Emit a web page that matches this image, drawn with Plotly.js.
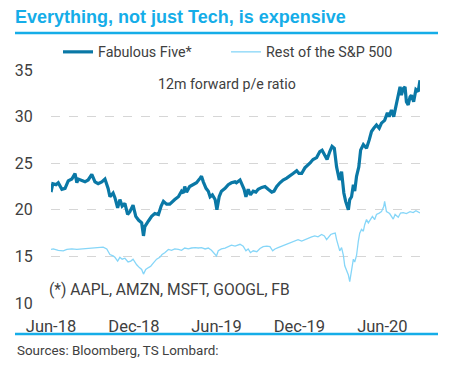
<!DOCTYPE html>
<html>
<head>
<meta charset="utf-8">
<script src="https://cdn.plot.ly/plotly-3.0.1.min.js"></script>
<style>html,body{margin:0;padding:0;background:#fff;}#chart{width:449px;height:367px;}</style>
</head>
<body>
<div id="chart"></div>
<script>
// Fabulous Five* (AAPL, AMZN, MSFT, GOOGL, FB) – 12m forward p/e
var fabDates = ["2018-06-01","2018-06-03","2018-06-05","2018-06-12","2018-06-17","2018-06-25","2018-07-02","2018-07-09","2018-07-17","2018-07-24","2018-07-28","2018-07-31","2018-08-08","2018-08-15","2018-08-22","2018-08-30","2018-09-06","2018-09-13","2018-09-21","2018-09-28","2018-10-05","2018-10-09","2018-10-16","2018-10-20","2018-10-26","2018-10-31","2018-11-05","2018-11-11","2018-11-17","2018-11-22","2018-11-29","2018-12-05","2018-12-11","2018-12-18","2018-12-22","2018-12-25","2019-01-02","2019-01-09","2019-01-16","2019-01-24","2019-01-30","2019-02-04","2019-02-11","2019-02-18","2019-03-01","2019-03-09","2019-03-16","2019-03-20","2019-03-23","2019-03-27","2019-04-03","2019-04-11","2019-04-18","2019-04-26","2019-04-29","2019-05-03","2019-05-09","2019-05-14","2019-05-18","2019-05-23","2019-05-29","2019-06-02","2019-06-07","2019-06-12","2019-06-20","2019-06-27","2019-07-04","2019-07-12","2019-07-15","2019-07-23","2019-07-26","2019-08-01","2019-08-05","2019-08-10","2019-08-15","2019-08-21","2019-08-27","2019-09-01","2019-09-09","2019-09-16","2019-09-23","2019-10-01","2019-10-06","2019-10-12","2019-10-19","2019-10-26","2019-11-03","2019-11-10","2019-11-17","2019-11-25","2019-11-30","2019-12-06","2019-12-13","2019-12-24","2019-12-31","2020-01-08","2020-01-15","2020-01-20","2020-01-26","2020-01-31","2020-02-06","2020-02-11","2020-02-16","2020-02-21","2020-02-27","2020-03-03","2020-03-08","2020-03-12","2020-03-18","2020-03-21","2020-03-25","2020-03-29","2020-04-01","2020-04-05","2020-04-10","2020-04-14","2020-04-20","2020-04-27","2020-05-03","2020-05-08","2020-05-13","2020-05-19","2020-05-25","2020-05-30","2020-06-06","2020-06-12","2020-06-16","2020-06-21","2020-06-26","2020-07-01","2020-07-06","2020-07-10","2020-07-13","2020-07-17","2020-07-21","2020-07-24","2020-07-28","2020-08-01","2020-08-04","2020-08-09","2020-08-14","2020-08-19","2020-08-23"];
var fabPE = [21.9,22.7,22.8,22.7,22.9,22.2,22.3,23.1,23.3,23.9,22.9,23.3,23.1,23.0,23.2,23.8,23.0,22.8,23.0,23.3,22.3,21.4,21.8,21.3,20.2,21.1,20.4,20.7,19.5,19.8,20.5,19.3,18.9,18.6,17.2,18.2,18.8,19.3,19.6,19.5,20.4,20.9,20.6,20.6,21.1,21.4,22.0,21.8,22.5,21.9,22.5,22.7,22.9,23.4,23.6,23.0,22.3,22.0,21.4,21.6,21.1,20.0,21.4,22.0,22.3,22.7,22.9,23.0,22.9,23.2,22.9,22.2,21.4,22.2,21.6,22.0,21.9,22.2,22.4,22.5,22.2,21.9,22.0,22.5,22.9,23.2,23.4,23.7,23.9,24.2,23.9,23.9,24.5,25.0,25.4,25.6,26.25,26.4,25.9,25.4,26.25,26.8,26.6,24.6,23.2,24.1,21.8,20.9,20.0,21.1,21.4,22.7,22.0,23.6,24.6,26.4,27.0,26.6,27.5,28.4,28.75,29.1,28.75,29.3,29.6,30.4,30.0,30.7,30.0,31.1,32.5,33.2,32.3,33.0,33.2,31.6,31.25,32.1,32.3,31.6,32.9,32.7,33.9];

// Rest of the S&P 500 – 12m forward p/e
var restDates = ["2018-06-01","2018-06-06","2018-06-17","2018-06-28","2018-07-06","2018-07-17","2018-07-28","2018-08-08","2018-08-22","2018-09-06","2018-09-17","2018-09-24","2018-10-02","2018-10-09","2018-10-16","2018-10-20","2018-10-26","2018-10-31","2018-11-05","2018-11-11","2018-11-18","2018-11-24","2018-11-29","2018-12-07","2018-12-13","2018-12-18","2018-12-22","2018-12-27","2019-01-02","2019-01-07","2019-01-13","2019-01-20","2019-01-27","2019-02-01","2019-02-07","2019-02-15","2019-02-22","2019-03-01","2019-03-09","2019-03-16","2019-03-23","2019-03-31","2019-04-07","2019-04-15","2019-04-22","2019-04-29","2019-05-07","2019-05-14","2019-05-21","2019-05-29","2019-06-01","2019-06-05","2019-06-12","2019-06-20","2019-06-27","2019-07-04","2019-07-12","2019-07-23","2019-07-30","2019-08-05","2019-08-10","2019-08-15","2019-08-21","2019-08-29","2019-09-05","2019-09-12","2019-09-20","2019-09-27","2019-10-03","2019-10-08","2019-10-15","2019-10-23","2019-10-30","2019-11-06","2019-11-14","2019-11-21","2019-11-28","2019-12-06","2019-12-13","2019-12-20","2019-12-28","2020-01-04","2020-01-11","2020-01-19","2020-01-25","2020-01-30","2020-02-02","2020-02-08","2020-02-13","2020-02-18","2020-02-21","2020-02-25","2020-02-28","2020-03-03","2020-03-07","2020-03-10","2020-03-14","2020-03-18","2020-03-21","2020-03-25","2020-03-29","2020-04-01","2020-04-05","2020-04-09","2020-04-12","2020-04-16","2020-04-20","2020-04-23","2020-04-27","2020-05-01","2020-05-04","2020-05-10","2020-05-15","2020-05-19","2020-05-25","2020-05-30","2020-06-04","2020-06-06","2020-06-10","2020-06-14","2020-06-17","2020-06-25","2020-06-29","2020-07-06","2020-07-11","2020-07-17","2020-07-24","2020-08-01","2020-08-08","2020-08-14","2020-08-19","2020-08-23"];
var restPE = [15.75,15.8,15.65,15.6,15.75,15.8,15.75,15.8,15.9,15.9,15.95,16.0,15.8,15.2,15.05,14.9,14.5,14.9,14.7,14.8,14.4,14.5,14.7,14.1,13.8,13.6,13.1,13.6,13.8,13.95,14.3,14.7,14.9,15.2,15.4,15.75,15.65,15.8,15.75,15.65,15.9,15.8,15.9,15.95,15.9,15.95,15.8,15.9,15.65,15.2,15.05,15.6,15.8,15.9,16.05,16.2,16.1,16.3,16.1,15.6,15.8,15.4,15.6,15.5,15.85,16.05,16.1,16.05,15.6,15.8,15.95,16.1,16.3,16.4,16.55,16.65,16.8,16.65,16.8,17.0,17.1,17.2,17.1,17.35,17.2,16.8,17.0,17.35,17.45,17.5,16.8,15.95,15.6,15.95,15.1,14.0,13.5,13.0,12.3,13.7,14.7,14.4,15.1,16.65,17.5,17.9,17.7,18.4,18.95,18.6,18.8,19.3,18.95,19.5,19.65,19.8,20.35,20.9,19.8,19.65,19.6,19.0,19.5,19.2,19.65,19.7,19.6,19.8,19.7,19.9,19.8,19.65];

var xTickVals = ["2018-06-01","2018-12-01","2019-06-01","2019-12-01","2020-06-01"];
var xTickText = ["Jun-18","Dec-18","Jun-19","Dec-19","Jun-20"];
var yTickVals = [10,15,20,25,30,35];

var FONT = "Roboto, 'Liberation Sans', Arial, sans-serif";
var TITLEFONT = "'Liberation Sans', Arial, sans-serif";
var TXT = "#404040";
var ACCENT = "#15ade8";

var traces = [
  {x: fabDates, y: fabPE, type: "scatter", mode: "lines", name: "Fabulous Five*",
   line: {color: "#0a78a6", width: 3.2}},
  {x: restDates, y: restPE, type: "scatter", mode: "lines", name: "Rest of the S&P 500",
   line: {color: "#86d6f8", width: 1.3}}
];

var layout = {
  width: 449, height: 367,
  margin: {l: 51, r: 29, t: 70, b: 64},
  paper_bgcolor: "#fff", plot_bgcolor: "#fff",
  font: {family: FONT, size: 14, color: TXT},
  title: {text: "<b>Everything, not just Tech, is expensive</b>",
          font: {family: TITLEFONT, size: 18, color: ACCENT},
          x: 15/449, xref: "container", xanchor: "left",
          y: 1 - 17/367, yref: "container", yanchor: "middle"},
  showlegend: true,
  legend: {orientation: "h", x: 0.019, xanchor: "left", y: 1.077, yanchor: "middle",
           font: {family: FONT, size: 14.3, color: TXT},
           bgcolor: "rgba(0,0,0,0)", entrywidth: 123, entrywidthmode: "pixels",
           itemwidth: 30, tracegroupgap: 0},
  xaxis: {type: "date", range: ["2018-06-01", "2020-08-23"],
          tickmode: "array", tickvals: xTickVals, ticktext: xTickText,
          showgrid: false, zeroline: false, showline: false,
          ticks: "outside", ticklen: 8, tickcolor: "rgba(0,0,0,0)",
          tickfont: {family: FONT, size: 16.5, color: TXT}},
  yaxis: {range: [10, 35], tickmode: "array", tickvals: yTickVals,
          showgrid: true, gridcolor: "#d6d6d6", gridwidth: 1, griddash: "dash",
          zeroline: false, showline: false,
          ticks: "outside", ticklen: 14, tickcolor: "rgba(0,0,0,0)",
          tickfont: {family: FONT, size: 16, color: TXT}},
  shapes: [
    {type: "line", xref: "paper", yref: "paper", x0: -36/369, x1: 387/369,
     y0: (303-33)/233, y1: (303-33)/233, line: {color: ACCENT, width: 2.5}},
    {type: "line", xref: "paper", yref: "paper", x0: -36/369, x1: 387/369,
     y0: (303-334)/233, y1: (303-334)/233, line: {color: ACCENT, width: 2.5}}
  ],
  annotations: [
    {text: "12m forward p/e ratio", xref: "paper", yref: "paper",
     x: (227-51)/369, y: (303-84)/233, xanchor: "center", yanchor: "middle",
     showarrow: false, font: {family: FONT, size: 14.2, color: TXT}},
    {text: "(*) AAPL, AMZN, MSFT, GOOGL, FB", xref: "paper", yref: "paper",
     x: (47-51)/369, y: (303-290)/233, xanchor: "left", yanchor: "middle",
     showarrow: false, font: {family: FONT, size: 15.6, color: TXT}},
    {text: "Sources: Bloomberg, TS Lombard:", xref: "paper", yref: "paper",
     x: (15-51)/369, y: (303-350)/233, xanchor: "left", yanchor: "middle",
     showarrow: false, font: {family: FONT, size: 13.4, color: TXT}}
  ]
};

Plotly.newPlot("chart", traces, layout, {displayModeBar: false, staticPlot: true});
</script>
</body>
</html>
